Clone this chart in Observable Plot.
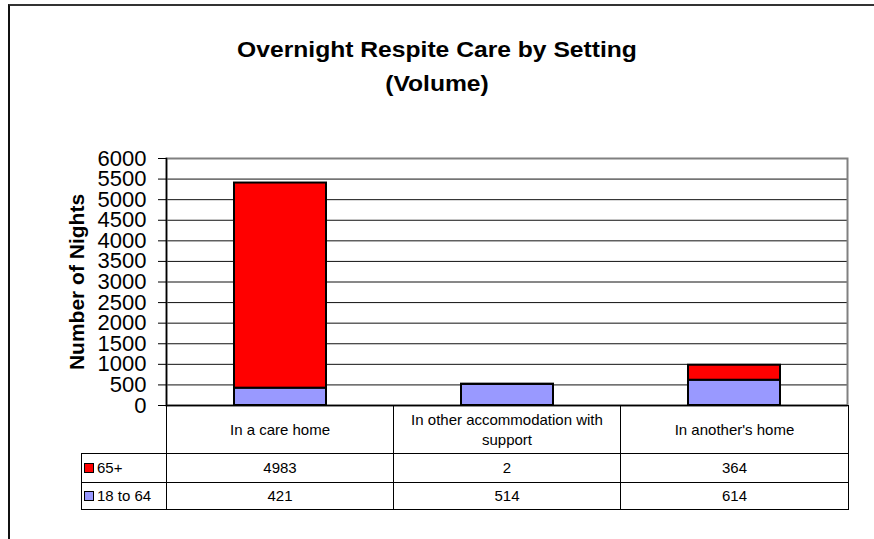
<!DOCTYPE html>
<html>
<head>
<meta charset="utf-8">
<script src="https://cdn.jsdelivr.net/npm/d3@7"></script>
<script src="https://cdn.jsdelivr.net/npm/@observablehq/plot@0.6"></script>
<style>
html,body{margin:0;padding:0;background:#fff;}
#wrap{position:relative;width:874px;height:539px;overflow:hidden;font-family:"Liberation Sans",Arial,sans-serif;background:#fff;color:#000;}
#frame{position:absolute;left:8px;top:4px;width:1000px;height:1000px;border-left:2px solid #111;border-top:2px solid #333;}
#title{position:absolute;left:0;top:33px;width:874px;text-align:center;font-weight:bold;font-size:22px;line-height:34px;transform:scaleX(1.12);transform-origin:437px 0;}
#chart{position:absolute;left:0;top:0;}
#tbl{position:absolute;left:81px;top:405px;border-collapse:collapse;table-layout:fixed;font-size:15px;font-family:"Liberation Sans",Arial,sans-serif;}
#tbl td{border:1px solid #000;text-align:center;vertical-align:middle;padding:0 4px;line-height:20px;box-sizing:border-box;}
#tbl td.blank{border-top:none;border-left:none;}
#tbl td.lab{text-align:left;padding-left:2px;white-space:nowrap;}
.sw{display:inline-block;width:8px;height:8px;border:1px solid #000;margin-right:3px;vertical-align:0px;}
</style>
</head>
<body>
<div id="wrap">
  <div id="frame"></div>
  <div id="title"></div>
  <div id="chart"></div>
  <table id="tbl"></table>
</div>
<script>
const titleLines = ["Overnight Respite Care by Setting", "(Volume)"];
const yLabel = "Number of Nights";
const categories = ["In a care home", "In other accommodation with support", "In another's home"];
const seriesNames = ["65+", "18 to 64"];
const values65plus = [4983, 2, 364];
const values18to64 = [421, 514, 614];
const seriesColors = ["#FF0000", "#9999FF"];
const yTicks = [0, 500, 1000, 1500, 2000, 2500, 3000, 3500, 4000, 4500, 5000, 5500, 6000];

// Title
document.getElementById("title").innerHTML = titleLines.map(t => `<div>${t}</div>`).join("");

// Long-format rows (18 to 64 first so it stacks at the bottom)
const rows = [];
categories.forEach((c, i) => {
  rows.push({setting: c, group: seriesNames[1], value: values18to64[i]});
  rows.push({setting: c, group: seriesNames[0], value: values65plus[i]});
});

const W = 874, H = 539, mT = 158, mB = 134, mL = 166, mR = 27;

const plot = Plot.plot({
  width: W, height: H,
  marginTop: mT, marginBottom: mB, marginLeft: mL, marginRight: mR,
  style: {fontFamily: '"Liberation Sans", Arial, sans-serif', color: "#000", background: "transparent", overflow: "visible"},
  x: {domain: categories, paddingInner: 0.595, paddingOuter: 0.2975, axis: null},
  y: {domain: [0, 6000], axis: null},
  color: {domain: seriesNames, range: seriesColors},
  marks: [
    Plot.ruleY(yTicks.slice(1, -1), {stroke: "#111", strokeWidth: 1}),
    Plot.frame({stroke: "#808080", strokeWidth: 2}),
    Plot.frame({anchor: "left", stroke: "#000", strokeWidth: 1.5}),
    Plot.ruleY([0], {stroke: "#000", strokeWidth: 1.5}),
    Plot.barY(rows, {x: "setting", y: "value", fill: "group", stroke: "#000", strokeWidth: 2}),
    Plot.axisY({ticks: yTicks, tickSize: 8, tickPadding: 12, fontSize: 22, label: null, tickFormat: d => String(d), stroke: "#000"}),
    Plot.text([yLabel], {frameAnchor: "left", rotate: -90, dx: -89, textAnchor: "middle", fontSize: 21, fontWeight: "bold", fill: "#000"})
  ]
});
document.getElementById("chart").appendChild(plot);

// Data table
const colW = [85, 227, 227, 228];
const rowH = [48, 29, 27];
let html = "<colgroup>" + colW.map(w => `<col style="width:${w}px">`).join("") + "</colgroup>";
html += `<tr style="height:${rowH[0]}px"><td class="blank"></td>` + categories.map(c => `<td>${c}</td>`).join("") + "</tr>";
const seriesVals = [values65plus, values18to64];
seriesNames.forEach((s, k) => {
  html += `<tr style="height:${rowH[k + 1]}px"><td class="lab"><span class="sw" style="background:${seriesColors[k]}"></span>${s}</td>` +
    seriesVals[k].map(v => `<td>${v}</td>`).join("") + "</tr>";
});
const tbl = document.getElementById("tbl");
tbl.innerHTML = html;
tbl.style.width = colW.reduce((a, b) => a + b, 0) + "px";
</script>
</body>
</html>
